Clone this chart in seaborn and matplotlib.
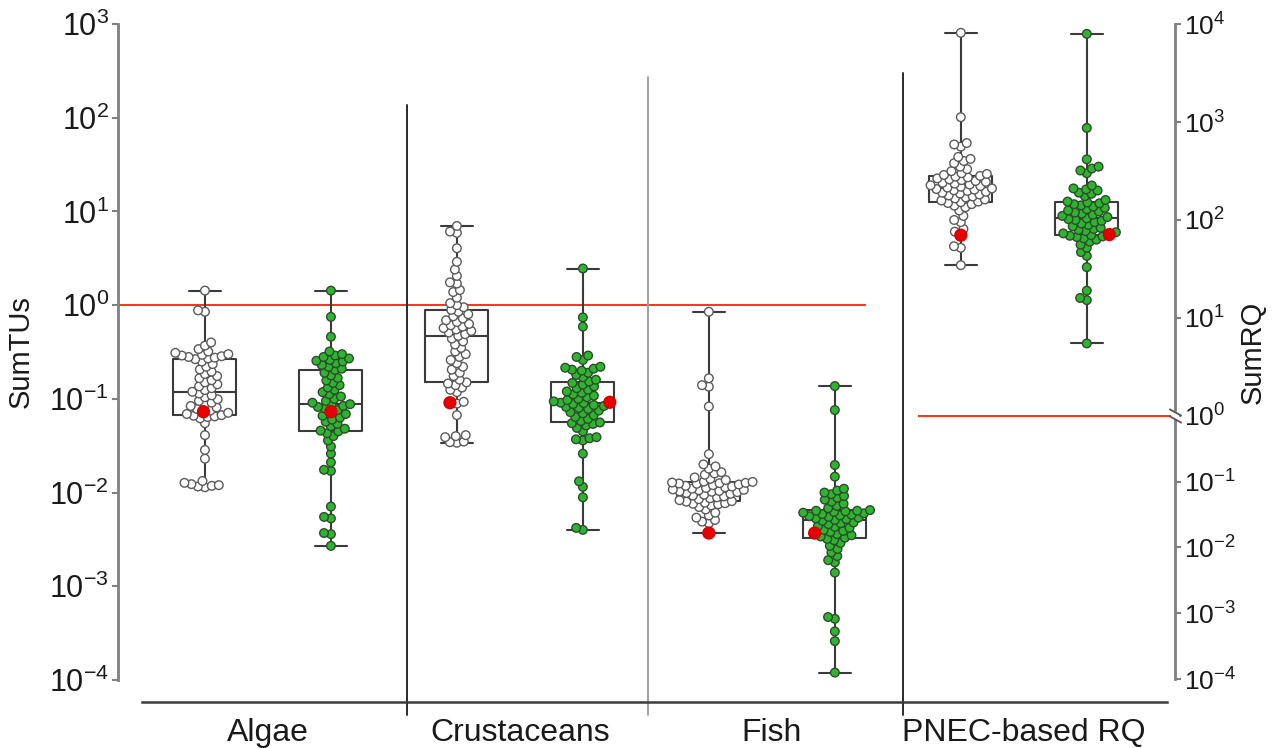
import warnings
import numpy as np
import pandas as pd
import matplotlib
matplotlib.use("Agg")
import matplotlib.pyplot as plt
from matplotlib.collections import PathCollection
from matplotlib.ticker import FixedLocator, LogFormatterMathtext, NullLocator
from matplotlib.transforms import offset_copy
import seaborn as sns

warnings.filterwarnings("ignore")

# ---------------------------------------------------------------- data
groups = ["Algae", "Crustaceans", "Fish", "PNEC-based RQ"]
series = ["A", "B"]

# SumTU per sample (left axis)
algae_a = [0.0114, 0.0116, 0.0118, 0.012, 0.0123, 0.0127, 0.0133, 0.023, 0.0285, 0.041,
           0.055, 0.062, 0.064, 0.065, 0.066, 0.067, 0.069, 0.071, 0.075, 0.078,
           0.081, 0.084, 0.087, 0.091, 0.095, 0.099, 0.104, 0.109, 0.114, 0.119,
           0.124, 0.13, 0.136, 0.143, 0.15, 0.158, 0.166, 0.175, 0.184, 0.195,
           0.206, 0.22, 0.235, 0.25, 0.265, 0.27, 0.275, 0.28, 0.285, 0.29,
           0.295, 0.30, 0.31, 0.32, 0.34, 0.37, 0.40, 0.85, 0.88, 1.43]
algae_b = [0.0027, 0.0036, 0.0037, 0.0053, 0.0055, 0.0071, 0.017, 0.0175, 0.021, 0.026,
           0.031, 0.036, 0.040, 0.043, 0.045, 0.0458, 0.048, 0.051, 0.054, 0.057,
           0.060, 0.063, 0.066, 0.069, 0.076, 0.079, 0.082, 0.084, 0.086, 0.0877,
           0.091, 0.095, 0.10, 0.106, 0.112, 0.118, 0.125, 0.132, 0.14, 0.148,
           0.157, 0.167, 0.178, 0.19, 0.204, 0.21, 0.22, 0.23, 0.24, 0.25,
           0.255, 0.26, 0.27, 0.28, 0.29, 0.30, 0.32, 0.46, 0.75, 1.43]
crust_a = [0.034, 0.0345, 0.035, 0.039, 0.040, 0.041, 0.067, 0.089, 0.093, 0.118,
           0.125, 0.132, 0.14, 0.146, 0.150, 0.16, 0.175, 0.19, 0.205, 0.22,
           0.24, 0.26, 0.28, 0.30, 0.32, 0.35, 0.38, 0.41, 0.44, 0.47,
           0.49, 0.51, 0.53, 0.55, 0.57, 0.59, 0.61, 0.63, 0.66, 0.69,
           0.72, 0.76, 0.80, 0.85, 0.89, 0.95, 1.0, 1.05, 1.2, 1.38,
           1.45, 1.7, 1.75, 2.05, 2.4, 2.9, 4.05, 5.9, 6.1, 7.0]
crust_b = [0.0040, 0.0042, 0.0089, 0.0115, 0.0132, 0.026, 0.036, 0.037, 0.038, 0.039,
           0.045, 0.049, 0.052, 0.054, 0.055, 0.056, 0.058, 0.061, 0.064, 0.067,
           0.070, 0.072, 0.075, 0.078, 0.080, 0.082, 0.084, 0.086, 0.088, 0.090,
           0.091, 0.094, 0.097, 0.10, 0.104, 0.108, 0.112, 0.116, 0.12, 0.125,
           0.13, 0.136, 0.142, 0.148, 0.153, 0.16, 0.17, 0.18, 0.19, 0.20,
           0.205, 0.21, 0.215, 0.22, 0.26, 0.28, 0.29, 0.59, 0.74, 2.46]
fish_a = [0.0047, 0.0049, 0.0051, 0.0054, 0.0057, 0.0061, 0.0066, 0.0070, 0.0073, 0.0075,
          0.0076, 0.0077, 0.0078, 0.0080, 0.0081, 0.0083, 0.0085, 0.0087, 0.0089, 0.0091,
          0.0093, 0.0095, 0.0097, 0.0099, 0.0101, 0.0102, 0.0103, 0.0104, 0.0106, 0.0107,
          0.0108, 0.011, 0.0112, 0.0114, 0.0116, 0.0118, 0.012, 0.0122, 0.0124, 0.0125,
          0.0126, 0.0127, 0.0128, 0.013, 0.0131, 0.0136, 0.014, 0.0145, 0.0155, 0.016,
          0.0165, 0.018, 0.019, 0.020, 0.0257, 0.083, 0.135, 0.14, 0.166, 0.85]
fish_b = [0.00012, 0.00026, 0.00033, 0.00045, 0.00047, 0.0014, 0.0018, 0.0019, 0.0021, 0.0023,
          0.0025, 0.0027, 0.0029, 0.0031, 0.0032, 0.0033, 0.0034, 0.0035, 0.0036, 0.0038,
          0.0039, 0.0040, 0.0042, 0.0043, 0.0044, 0.0046, 0.0047, 0.0048, 0.0050, 0.0051,
          0.0052, 0.0053, 0.0054, 0.0055, 0.0056, 0.0057, 0.0058, 0.0059, 0.0060, 0.0061,
          0.0062, 0.0063, 0.0064, 0.0064, 0.0065, 0.0068, 0.0072, 0.0076, 0.0080, 0.0084,
          0.0088, 0.0092, 0.0096, 0.0100, 0.0105, 0.0110, 0.0148, 0.0197, 0.076, 0.137]

# SumRQ per sample (right axis)
rq_a = [34.6, 52, 54, 76, 81, 95, 100, 110, 125, 135,
        140, 145, 149, 152, 154, 158, 162, 166, 170, 174,
        178, 182, 186, 190, 194, 198, 201, 204, 207, 210,
        214, 218, 222, 226, 230, 235, 240, 245, 250, 255,
        260, 266, 272, 277, 282, 288, 295, 300, 315, 330,
        350, 380, 400, 420, 440, 560, 590, 610, 1120, 8130]
rq_b = [5.5, 15.2, 16, 19, 33, 43, 47, 52, 56, 60,
        63, 65, 67, 68, 69, 70, 73, 75, 77, 79,
        81, 83, 86, 89, 92, 95, 98, 100, 102, 104,
        107, 110, 113, 116, 119, 122, 125, 129, 133, 137,
        141, 145, 148, 151, 154, 160, 175, 185, 190, 200,
        205, 210, 225, 300, 320, 335, 350, 416, 870, 7940]

# highlighted sample of every box (same order as the boxes)
highlight = [0.073, 0.073, 0.091, 0.092, 0.0037, 0.0037, 70, 71]

tu_threshold = 1.0
rq_threshold = 1.0
tu_ticks = [1e-4, 1e-3, 1e-2, 1e-1, 1e0, 1e1, 1e2, 1e3]
rq_ticks = [1e-4, 1e-3, 1e-2, 1e-1, 1e0, 1e1, 1e2, 1e3, 1e4]

# ---------------------------------------------------------------- long table
slots = [f"{g} {s}" for g in groups for s in series]
samples = [algae_a, algae_b, crust_a, crust_b, fish_a, fish_b, rq_a, rq_b]
rows = []
for slot, s, vals in zip(slots, series * len(groups), samples):
    rows += [(slot, v, s) for v in vals]
for slot, v in zip(slots, highlight):
    rows.append((slot, v, "mark"))
df = pd.DataFrame(rows, columns=["slot", "value", "style"])
is_rq = df["slot"].str.startswith(groups[-1])
df_tu, df_rq = df[~is_rq], df[is_rq]

# ---------------------------------------------------------------- style
sns.set_theme(style="white")
plt.rcParams["font.family"] = ["Liberation Sans", "DejaVu Sans"]
plt.rcParams["mathtext.fontset"] = "custom"
plt.rcParams["mathtext.rm"] = "Liberation Sans"
plt.rcParams["mathtext.it"] = "Liberation Sans:italic"
plt.rcParams["mathtext.bf"] = "Liberation Sans:bold"

palette = {"A": "#ffffff", "B": "#2eb52e", "mark": "#e60000"}
edge_of = {"A": "#5a5a5a", "B": "#2f4a2f", "mark": "#d40000"}
box_color = "#3a3a3a"
axis_gray = "#808080"
red_line = "#ff2200"
text_color = "#1a1a1a"

fig = plt.figure(figsize=(12.73, 7.48), dpi=100)
ax = fig.add_axes([0.0927, 0.0909, 0.8303, 0.877])
ax.set_yscale("log")
ax2 = ax.twinx()

# right axis: log scale with a break at RQ = 1 (compressed below the break)
BREAK_AT = -1.1825          # left-axis decade where RQ = 1 sits
UPPER = (3 - BREAK_AT) / 4  # RQ 1e4 level with the top of the left axis
LOWER = 0.7017


def rq_forward(v):
    v = np.asarray(v, dtype=float)
    with np.errstate(divide="ignore", invalid="ignore"):
        L = np.log10(np.where(v > 0, v, np.nan))
    return BREAK_AT + np.where(L >= 0, L * UPPER, L * LOWER)


def rq_inverse(u):
    d = np.asarray(u, dtype=float) - BREAK_AT
    return 10.0 ** np.where(d >= 0, d / UPPER, d / LOWER)


ax2.set_yscale("function", functions=(rq_forward, rq_inverse))

box_kw = dict(x="slot", y="value", order=slots, whis=(0, 100), width=0.5,
              fill=False, color=box_color, linewidth=1.5, showfliers=False)
swarm_kw = dict(x="slot", y="value", hue="style", order=slots,
                hue_order=["A", "B", "mark"], palette=palette, dodge=False,
                size=6.2, linewidth=1.0, edgecolor="#555555", legend=False, zorder=3)

sns.boxplot(data=df_tu, ax=ax, **box_kw)
sns.swarmplot(data=df_tu, ax=ax, **swarm_kw)
sns.boxplot(data=df_rq, ax=ax2, **box_kw)
sns.swarmplot(data=df_rq, ax=ax2, **swarm_kw)

# ---------------------------------------------------------------- axes layout
ax.set_xlim(-0.69, 7.70)
ax.set_ylim(tu_ticks[0], tu_ticks[-1])
ax2.set_ylim(rq_inverse(np.log10(tu_ticks[0])), rq_inverse(np.log10(tu_ticks[-1])))

ax.yaxis.set_major_locator(FixedLocator(tu_ticks))
ax.yaxis.set_major_formatter(LogFormatterMathtext())
ax.yaxis.set_minor_locator(NullLocator())
ax2.yaxis.set_major_locator(FixedLocator(rq_ticks))
ax2.yaxis.set_major_formatter(LogFormatterMathtext())
ax2.yaxis.set_minor_locator(NullLocator())

centers = np.arange(len(groups)) * len(series) + (len(series) - 1) / 2
ax.set_xticks(centers)
ax.set_xticklabels(groups)
ax.set_xlabel("")
ax2.set_xlabel("")
ax.grid(False)
ax2.grid(False)

for side in ("top", "right"):
    ax.spines[side].set_visible(False)
for side in ("top", "left", "bottom"):
    ax2.spines[side].set_visible(False)
ax.spines["left"].set_color(axis_gray)
ax.spines["left"].set_linewidth(2)
ax.spines["bottom"].set_position(("outward", 16))
ax.spines["bottom"].set_bounds(-0.5, 7.64)
ax.spines["bottom"].set_color("#3c3c3c")
ax.spines["bottom"].set_linewidth(1.8)
ax2.spines["right"].set_color(axis_gray)
ax2.spines["right"].set_linewidth(2)
ax2.spines["right"].set_bounds(rq_ticks[0], rq_ticks[-1])

ax.tick_params(axis="y", direction="out", length=4.5, width=1.5, color=axis_gray,
               labelsize=22, pad=2, labelcolor=text_color)
ax.tick_params(axis="x", length=0, labelsize=23, pad=11, labelcolor=text_color)
ax2.tick_params(axis="y", direction="out", length=4.5, width=1.5, color=axis_gray,
                labelsize=19, pad=2, labelcolor=text_color)

ax.set_ylabel("SumTUs", fontsize=21, labelpad=10, color=text_color)
ax2.set_ylabel("SumRQ", fontsize=21, labelpad=2, color=text_color)

# group separators
xt = ax.get_xaxis_transform()
for xpos, top, col in zip([1.6, 3.52, 5.54], [0.877, 0.919, 0.925],
                          ["#2a2a2a", "#a0a0a0", "#2a2a2a"]):
    ax.plot([xpos, xpos], [-0.053, top], transform=xt, color=col, lw=1.4, clip_on=False)

# threshold lines
ax.hlines(tu_threshold, ax.get_xlim()[0], 5.25, color=red_line, lw=1.3, zorder=1.5)
ax2.hlines(rq_threshold, 5.66, 7.67, color=red_line, lw=1.3, zorder=1.5)

# break mark on the right axis
yt = ax2.get_yaxis_transform()
ax2.plot([1.0], [rq_threshold], transform=offset_copy(yt, fig, x=0, y=1, units="points"),
         marker="s", ms=5, mfc="white", mec="white", clip_on=False, zorder=5)
for dy in (-2.5, 3.0):
    ax2.plot([1.0], [rq_threshold], transform=offset_copy(yt, fig, x=0, y=dy, units="points"),
             marker=[(-1, 0.55), (1, -0.55)], ms=9, mew=1.3, color="#555555",
             clip_on=False, zorder=6)

# ---------------------------------------------------------------- swarm styling
# per-point edge colours, a larger highlighted marker, and a swarm laid out
# with a tighter spacing than the drawn marker size so points may overlap
face_to_style = {k: np.array(matplotlib.colors.to_rgb(c)) for k, c in palette.items()}
swarms, final_sizes = [], []
for a in (ax, ax2):
    for coll in a.collections:
        if not isinstance(coll, PathCollection) or len(coll.get_offsets()) < 2:
            continue
        base = coll.get_sizes()[0]
        edges, sizes = [], []
        for fc in coll.get_facecolors():
            style = min(face_to_style, key=lambda k: np.abs(face_to_style[k] - fc[:3]).sum())
            edges.append(edge_of[style])
            sizes.append(base * (1.9 if style == "mark" else 1.0))
        coll.set_edgecolors(edges)
        coll.set_sizes([base * 0.38])
        swarms.append(coll)
        final_sizes.append(np.array(sizes))

fig.canvas.draw()
for coll, sizes in zip(swarms, final_sizes):
    if "draw" in coll.__dict__:
        del coll.draw
    coll.set_sizes(sizes)

fig.savefig("out.png", dpi=100)
